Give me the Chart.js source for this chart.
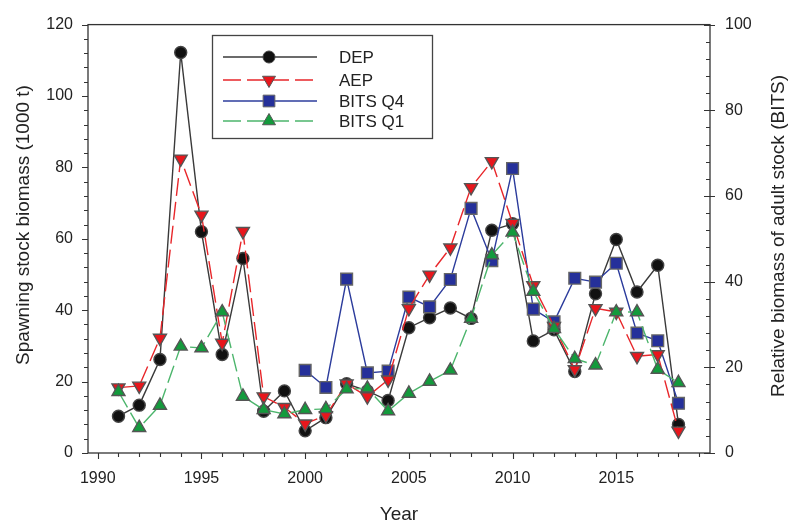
<!DOCTYPE html>
<html>
<head>
<meta charset="utf-8">
<script src="https://cdn.jsdelivr.net/npm/chart.js@4.4.0/dist/chart.umd.min.js"></script>
<style>
html,body{margin:0;padding:0;background:#fff;}
canvas{display:block;}
</style>
</head>
<body>
<canvas id="c" width="790" height="527"></canvas>
<script>
// ---- data ----
const years = [1991,1992,1993,1994,1995,1996,1997,1998,1999,2000,2001,2002,2003,2004,2005,2006,2007,2008,2009,2010,2011,2012,2013,2014,2015,2016,2017,2018];
const dep   = [10.3,13.4,26.2,112.2,62.0,27.6,54.5,11.7,17.4,6.2,9.9,19.4,17.4,14.7,35.1,37.9,40.6,37.7,62.4,64.2,31.4,34.5,22.8,44.6,59.8,45.1,52.6,8.0];
const aep   = [18.3,18.8,32.2,82.4,66.7,30.8,62.1,15.8,12.8,8.2,10.5,19.4,15.8,20.5,40.5,49.9,57.5,74.4,81.7,64.4,46.9,35.5,23.4,40.5,39.5,27.1,27.6,6.2];
const bitsQ4 = [null,null,null,null,null,null,null,null,null,19.3,15.3,40.6,18.7,19.1,36.4,34.1,40.5,57.1,44.9,66.4,33.6,30.6,40.8,39.9,44.3,28.0,26.2,11.6];
const bitsQ1 = [14.3,5.9,11.1,24.9,24.5,32.9,13.2,10.1,9.1,10.1,10.3,14.9,15.1,9.8,13.9,16.7,19.3,31.4,46.2,51.5,37.7,29.0,22.0,20.5,32.9,32.9,19.5,16.4];
const xTickLabels = [1990,1995,2000,2005,2010,2015];
const leftTicks = [0,20,40,60,80,100,120];
const rightTicks = [0,20,40,60,80,100];
const seriesNames = ['DEP','AEP','BITS Q4','BITS Q1'];
const xTitle = 'Year';
const yTitle = 'Spawning stock biomass (1000 t)';
const y1Title = 'Relative biomass of adult stock (BITS)';

const FONT = "'Liberation Sans', Arial, sans-serif";
const pts = arr => years.map((y,i)=>({x:y, y:arr[i]}));

const datasets = [
  {label:seriesNames[0], data:pts(dep), yAxisID:'y', borderColor:'#3a3a3a', backgroundColor:'#111', pointBackgroundColor:'#111', pointBorderColor:'#444', pointStyle:'circle', pointRadius:6, borderWidth:1.4, order:4},
  {label:seriesNames[1], data:pts(aep), yAxisID:'y', borderColor:'#e8262a', backgroundColor:'#e8161c', pointBackgroundColor:'#e8161c', pointBorderColor:'#555', pointStyle:'triangle', rotation:180, pointRadius:7.5, borderWidth:1.4, borderDash:[18,6], order:2},
  {label:seriesNames[2], data:pts(bitsQ4), yAxisID:'y1', borderColor:'#2c3c9c', backgroundColor:'#25309a', pointBackgroundColor:'#25309a', pointBorderColor:'#666', pointStyle:'rect', pointRadius:8.3, borderWidth:1.4, spanGaps:false, order:3},
  {label:seriesNames[3], data:pts(bitsQ1), yAxisID:'y1', borderColor:'#4cb56c', backgroundColor:'#139a3c', pointBackgroundColor:'#139a3c', pointBorderColor:'#555', pointStyle:'triangle', pointRadius:7.5, borderWidth:1.4, borderDash:[18,6], order:1}
];

const decor = {
  id:'decor',
  afterDatasetsDraw(chart){
    const ctx = chart.ctx, a = chart.chartArea;
    const sx = chart.scales.x, sy = chart.scales.y, sy1 = chart.scales.y1;
    ctx.save();
    ctx.strokeStyle = '#333'; ctx.lineWidth = 1.3; ctx.setLineDash([]);
    ctx.strokeRect(a.left, a.top, a.right-a.left, a.bottom-a.top);
    ctx.lineWidth = 1.1;
    ctx.beginPath();
    for (let v=0; v<=120; v+=4){
      const p = Math.round(sy.getPixelForValue(v))+0.5;
      const L = (v%20===0)?6:4;
      ctx.moveTo(a.left, p); ctx.lineTo(a.left-L, p);
    }
    for (let v=0; v<=100; v+=4){
      const p = Math.round(sy1.getPixelForValue(v))+0.5;
      const major = v%20===0;
      ctx.moveTo(a.right-(major?6:4), p); ctx.lineTo(a.right+(major?5:0), p);
    }
    for (let yr=1990; yr<=2019; yr++){
      const p = Math.round(sx.getPixelForValue(yr))+0.5;
      const L = (yr%5===0)?6:4;
      ctx.moveTo(p, a.bottom); ctx.lineTo(p, a.bottom+L);
    }
    ctx.stroke();

    ctx.fillStyle = '#222';
    ctx.font = '19px ' + FONT;
    ctx.textAlign = 'center'; ctx.textBaseline = 'middle';
    ctx.fillText(xTitle, (a.left+a.right)/2, 515);
    ctx.save();
    ctx.translate(24, 225);
    ctx.rotate(-Math.PI/2);
    ctx.fillText(yTitle, 0, 0);
    ctx.restore();
    ctx.save();
    ctx.translate(779, 236);
    ctx.rotate(-Math.PI/2);
    ctx.fillText(y1Title, 0, 0);
    ctx.restore();

    const bx=212, by=35, bw=220, bh=103;
    ctx.fillStyle='#fff';
    ctx.fillRect(bx,by,bw,bh);
    ctx.strokeStyle='#444'; ctx.lineWidth=1.3;
    ctx.strokeRect(bx+0.5,by+0.5,bw,bh);
    const rows=[57,80,101,121];
    ctx.font='17px '+FONT; ctx.textAlign='left'; ctx.textBaseline='middle';
    chart.data.datasets.forEach((ds,i)=>{
      const yy=rows[i];
      ctx.strokeStyle=ds.borderColor; ctx.lineWidth=ds.borderWidth;
      ctx.setLineDash(ds.borderDash||[]);
      ctx.beginPath(); ctx.moveTo(223,yy); ctx.lineTo(317,yy); ctx.stroke();
      ctx.setLineDash([]);
      ctx.fillStyle=ds.pointBackgroundColor; ctx.strokeStyle=ds.pointBorderColor; ctx.lineWidth=1;
      Chart.helpers.drawPoint(ctx,{pointStyle:ds.pointStyle, rotation:ds.rotation||0, radius:ds.pointRadius, borderWidth:1},269,yy);
      ctx.fillStyle='#222';
      ctx.fillText(ds.label,339,yy+1);
    });
    ctx.restore();
  }
};

const tickFont = {family:FONT, size:16};
new Chart(document.getElementById('c'), {
  type:'line',
  data:{datasets},
  options:{
    responsive:false, animation:false, devicePixelRatio:1,
    layout:{padding:{top:19,right:0,bottom:0,left:0}},
    plugins:{legend:{display:false}, tooltip:{enabled:false}},
    elements:{line:{tension:0}},
    scales:{
      x:{type:'linear', min:1989.53, max:2019.52, position:'bottom',
        afterBuildTicks:s=>{s.ticks = xTickLabels.map(v=>({value:v}));},
        afterFit:s=>{s.height = 74;},
        grid:{display:false, drawTicks:false, tickLength:0}, border:{display:false},
        ticks:{font:tickFont, color:'#222', padding:16, callback:v=>String(v), autoSkip:false, maxRotation:0}},
      y:{type:'linear', position:'left', min:0, max:120,
        afterBuildTicks:s=>{s.ticks = leftTicks.map(v=>({value:v}));},
        afterFit:s=>{s.width = 88;},
        grid:{display:false, drawTicks:false, tickLength:0}, border:{display:false},
        ticks:{font:tickFont, color:'#222', padding:15}},
      y1:{type:'linear', position:'right', min:0, max:100,
        afterBuildTicks:s=>{s.ticks = rightTicks.map(v=>({value:v}));},
        afterFit:s=>{s.width = 80;},
        grid:{display:false, drawTicks:false, tickLength:0}, border:{display:false},
        ticks:{font:tickFont, color:'#222', padding:15}}
    }
  },
  plugins:[decor]
});
</script>
</body>
</html>
